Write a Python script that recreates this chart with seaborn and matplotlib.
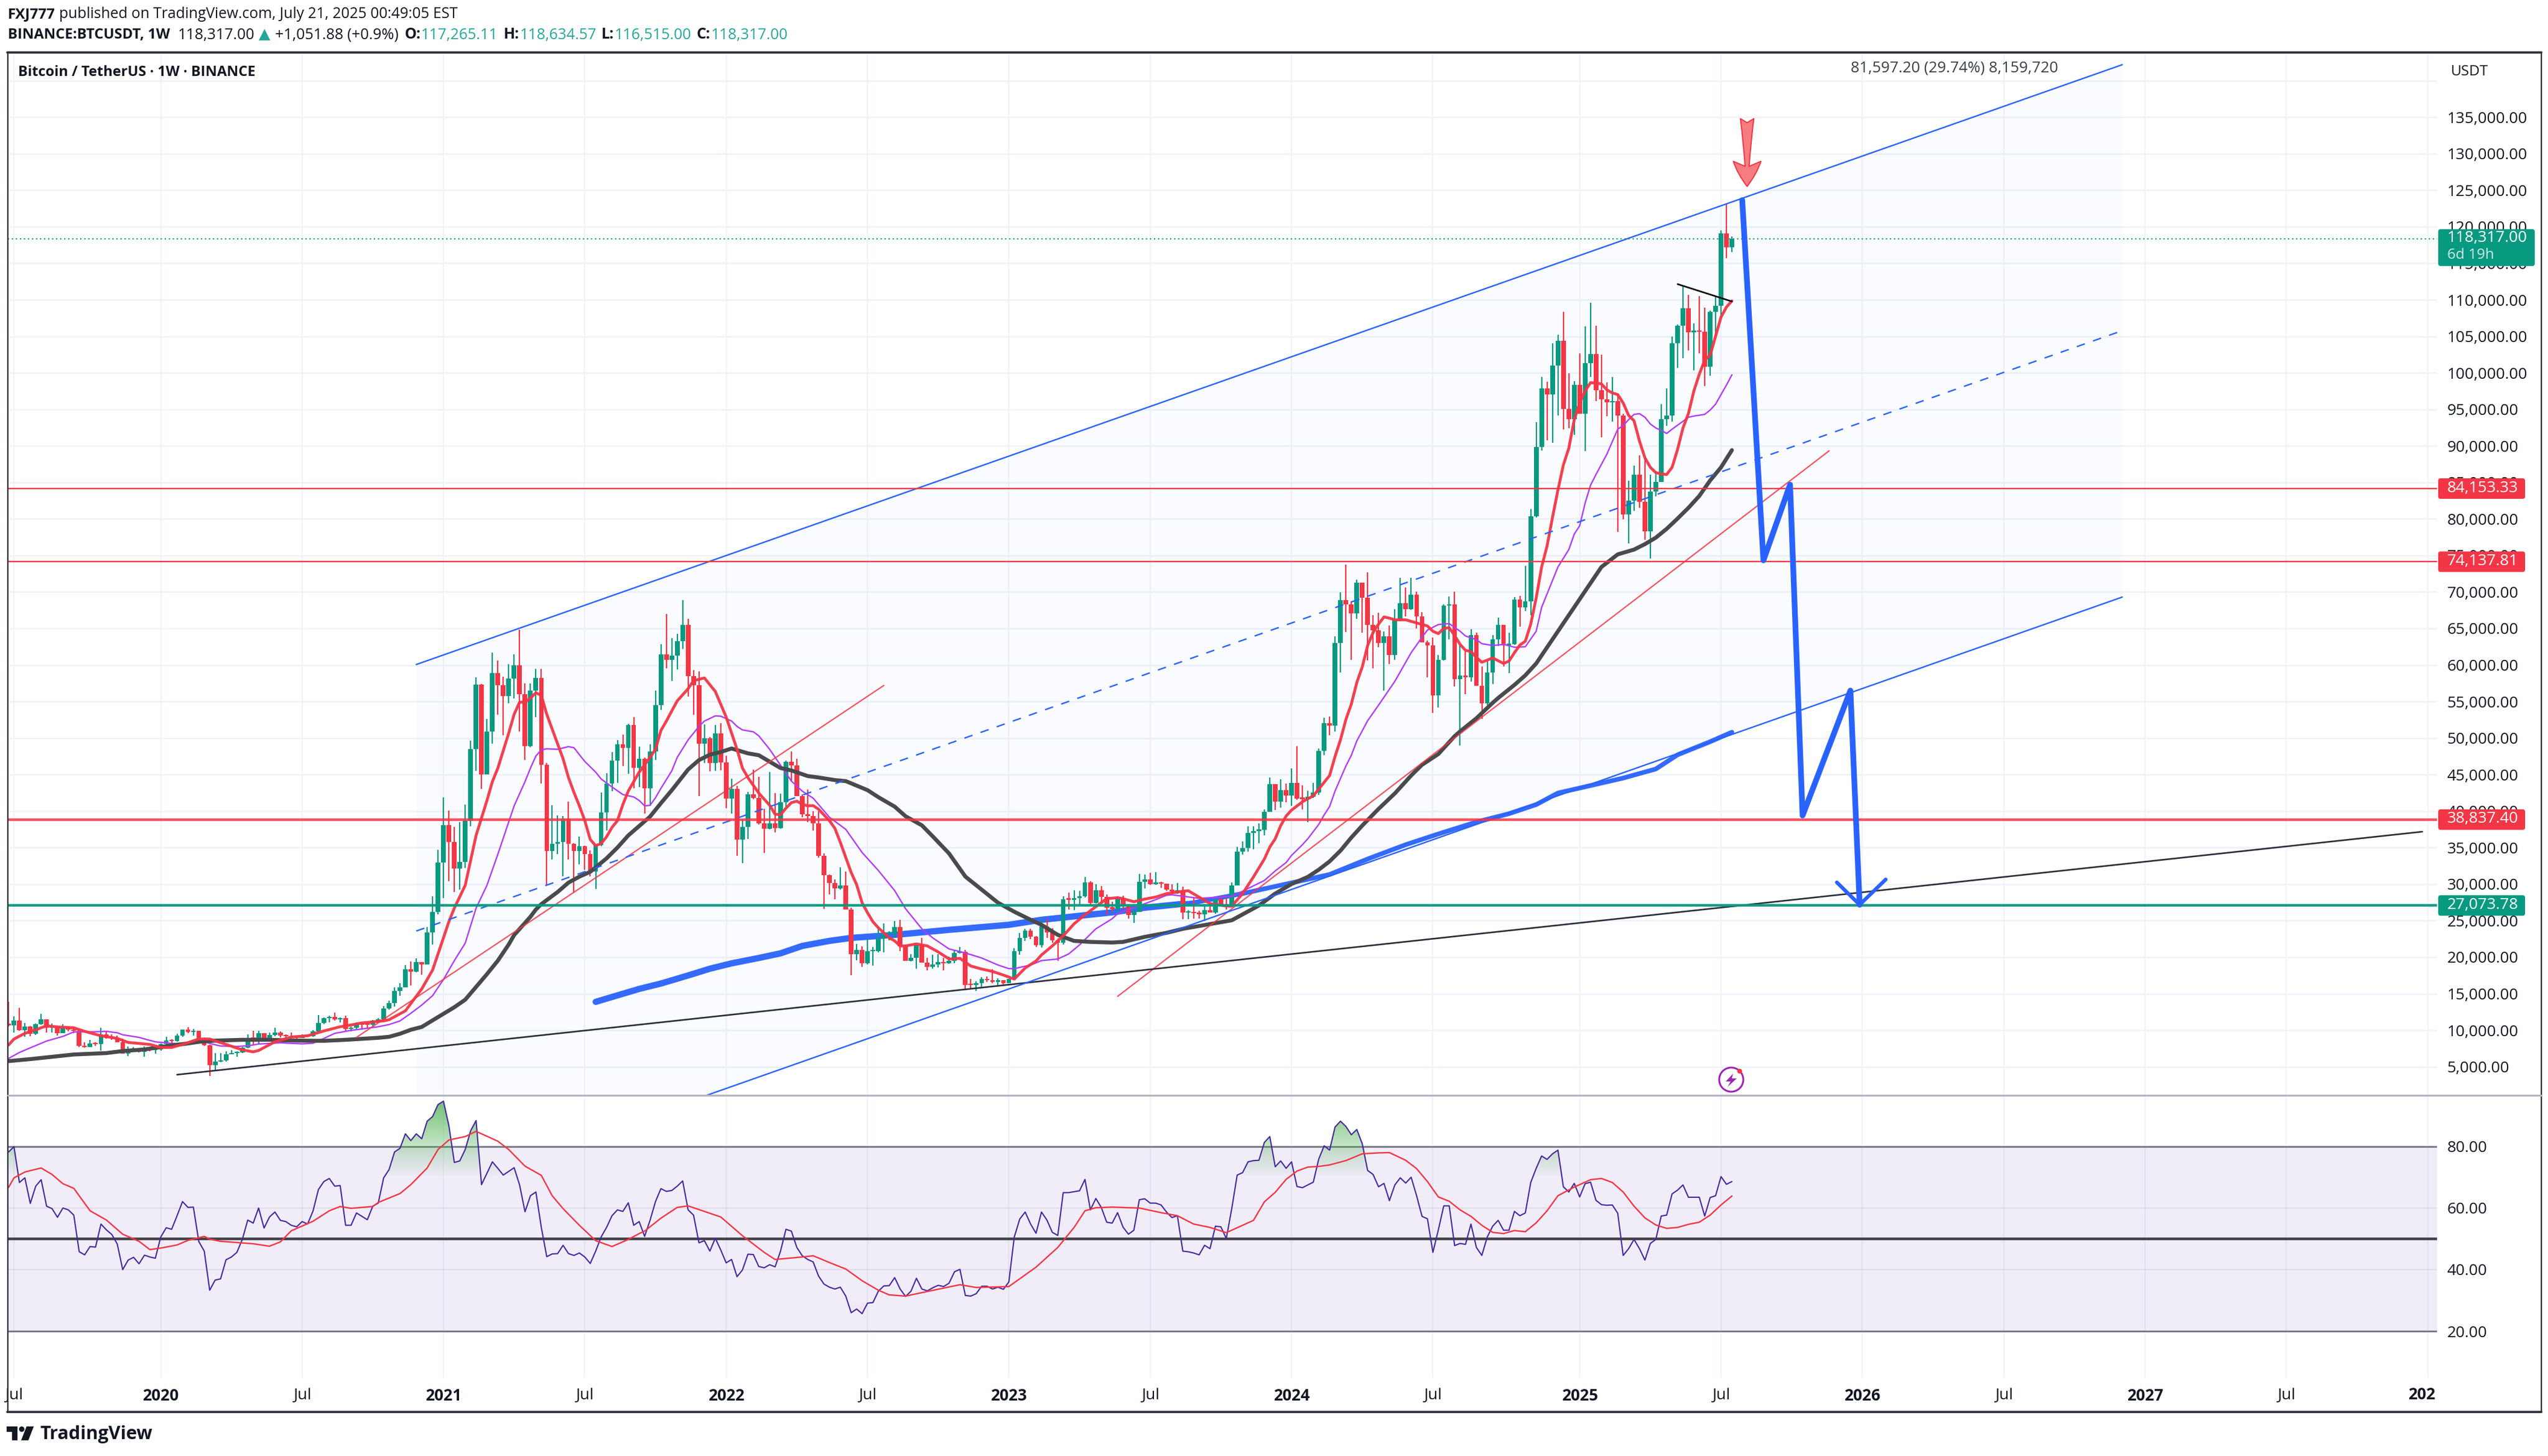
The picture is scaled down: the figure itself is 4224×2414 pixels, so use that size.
import numpy as np
import pandas as pd
import matplotlib
matplotlib.use("Agg")
import matplotlib.pyplot as plt
import seaborn as sns
from matplotlib.patches import FancyBboxPatch, Polygon, Circle, Rectangle, PathPatch
from matplotlib.lines import Line2D
from matplotlib.path import Path
from matplotlib.transforms import Affine2D

# ---------- weekly candles (bar 0 = first week of Jan 2020) ----------
first_bar = -28
first_open = 10888
closes = [
 10667,11327,10034,10500,9510,10832,11492,10337,10400,9620,
 10337,10060,9900,7833,7695,8162,8109,9428,8934,8878,
 8384,6814,7364,7420,7007,7420,7300,7350,8108,8603,
 8520,9235,10061,9759,9959,8411,7915,5245,5714,5850,
 6676,6876,6990,7582,8878,8800,9567,8603,9346,9676,
 9235,9153,9015,8960,9290,9170,9841,11000,11657,11823,
 11492,11685,10171,10337,10887,10750,10710,11350,11492,12950,
 13722,15345,15870,18345,18042,19336,19044,23392,26158,32977,
 38064,35740,32165,33050,38690,48457,57304,45030,50854,58889,
 57230,55719,58115,59958,56014,48937,56493,58225,46319,34561,
 35556,35740,38948,35483,34561,35188,34155,31687,35373,39795,
 43740,46910,49121,48642,51775,45950,47167,43112,48162,54539,
 61432,60695,61285,63275,65487,58484,57230,49268,49932,46614,
 50670,46688,41749,43002,36110,37842,42265,41822,38322,37583,
 38322,37694,41217,46776,46225,42042,39566,39345,38327,33869,
 31254,30154,29383,29796,26493,20438,20990,19200,20797,20797,
 22558,23191,23191,24153,21457,19476,19890,21760,19256,18650,
 18980,19310,19145,19530,20577,20770,16229,16200,16450,16998,
 16860,16586,16860,16448,16998,20797,22613,23658,22833,21677,
 24209,23384,22283,21952,27952,27870,28062,28337,30208,27457,
 29163,28281,26768,26630,28060,26906,25806,26218,30347,30620,
 29989,30208,30070,29245,29000,29190,26094,26100,26000,25900,
 26420,26095,27954,27170,27074,29850,34420,34910,36967,37290,
 37455,39905,43660,41275,42900,42157,43823,41700,41670,41930,
 42518,48230,52050,51690,63054,68866,68278,67070,71250,69190,
 65500,64785,63054,63900,61355,66253,68440,67657,69584,66645,
 63087,62662,55805,60703,68147,68278,58090,58580,58350,64130,
 57177,54760,59005,63477,65535,62727,62890,68963,67885,68700,
 80370,89840,97840,97020,101040,104370,95060,93660,98330,94410,
 101330,102570,97610,96370,95940,96140,94180,80630,82490,86020,
 82330,78315,83730,85100,93690,94180,104040,106460,108870,105575,
 105740,105610,100840,108350,109170,119060,117200,118317]
highs = [
 13887,11905,13061,11000,10584,10914,12200,11492,10886,10530,
 10805,10390,10330,10116,8383,8686,8320,10337,9786,9428,
 9290,8880,7778,7680,7500,7750,7580,7490,8190,9090,
 8800,9480,10115,10391,10170,9900,8975,8000,6870,6870,
 7090,7310,7090,7694,9428,9960,9896,9567,9676,10337,
 9841,9430,9676,9150,9430,9300,9979,12070,11720,11990,
 12400,11712,12000,10530,11080,10950,11080,11440,11685,13280,
 14050,15895,16445,18915,19418,19800,19338,24130,28296,34700,
 41900,40052,37842,38505,40900,49637,58300,57415,52623,61727,
 60621,58410,60142,61432,64860,57488,57488,59441,59441,46600,
 40790,39420,39315,41270,35630,36478,35262,34634,35373,42560,
 45200,48090,49747,50485,51960,52880,48826,47352,49121,56493,
 62833,66960,63644,64234,68915,66335,59330,59146,51849,50117,
 51775,52033,47536,44477,43480,38800,42634,45693,44698,40274,
 45325,42455,42372,46940,48150,47133,42317,42923,39978,39978,
 34200,31309,30622,32273,31722,26769,21815,21458,22365,21400,
 24209,24622,23548,24980,25117,21700,20440,21760,22640,19890,
 20300,20440,19890,20050,20990,21400,20990,17055,16723,17275,
 17320,18320,17080,16620,16998,21210,23329,23879,23879,22890,
 25200,25200,23934,22558,28337,28833,29163,29108,30980,30429,
 29989,29741,28612,27594,28226,28419,27126,26686,31364,31309,
 31530,31667,30347,29988,29988,30153,29620,26420,28050,26355,
 26900,27465,27954,28445,28050,30270,35139,35890,37915,37915,
 38340,40200,44640,43725,44380,43790,45850,48883,43500,42750,
 43820,48557,52770,52930,63900,69943,73763,68700,71700,71250,
 72718,66800,67140,64620,65400,67620,71900,70600,71900,70073,
 67233,63315,63800,61355,68310,69355,70000,62727,61845,64880,
 64390,59788,60540,64065,66482,65535,64390,69290,69450,73600,
 81360,93200,99470,98800,104040,105180,108350,99900,98880,102640,
 106330,109590,106460,102470,98720,99470,97100,94410,85200,87325,
 88700,88440,86020,86475,95715,97840,104955,106590,111940,110635,
 106750,110510,108940,108550,110510,119480,123140,118634]
lows = [
 10500,9704,9900,9070,9160,9346,10750,9704,9680,9290,
 9566,9840,9620,7695,7600,7723,7830,7226,8878,8660,
 8330,6760,6484,7020,6950,6400,7090,6810,7170,8000,
 8190,8410,9070,9620,9290,8400,7860,3732,4392,5650,
 5714,6800,6400,6870,7530,8053,8190,8550,8550,9205,
 9015,8960,8935,8880,8960,9080,9100,9730,10800,11080,
 11350,11080,9841,9800,10171,10115,10335,10475,11080,11270,
 12815,13200,14740,15840,16113,17960,17570,18970,21735,25900,
 28100,30400,28922,29216,32240,37952,45500,43000,45030,49268,
 53176,50374,54798,55460,50853,46982,48750,52880,43775,29916,
 33345,34080,31060,33345,28810,32680,32000,31060,29290,35188,
 37326,42740,43850,46173,45140,43112,43296,39610,40716,46983,
 53876,59515,57783,59405,62206,55645,53176,42007,46614,45435,
 45509,45582,40421,39610,33897,32866,36220,41638,38138,34266,
 37473,37088,37584,40391,44106,42042,39153,38520,37364,33648,
 26631,28613,27952,29245,26493,17550,19614,18650,19008,18870,
 20660,20660,22310,22640,20797,19476,19420,18460,19256,18150,
 18430,18600,18150,19063,19145,20521,15568,15760,15403,15980,
 16587,16450,16173,16311,16480,16998,20357,22228,22500,21400,
 21347,22640,21952,19530,21733,26493,26410,27180,28143,27060,
 27318,27457,25750,26218,25805,26493,25254,24704,26218,29438,
 29933,29878,29520,29053,28557,28695,25180,25200,25280,25280,
 24950,26095,25930,27170,26520,27008,29850,34000,34480,34800,
 35630,36700,39900,40130,40460,41210,40720,41540,40200,38500,
 41766,42190,47640,50420,50910,58970,64520,60700,66300,64460,
 60600,59560,62400,56520,60115,60700,66025,66645,67560,65000,
 63087,58352,53450,54173,60637,63480,57110,49015,56030,57765,
 57177,52605,54500,57438,62600,59820,58907,62760,65274,67400,
 66841,80200,89350,90750,90400,94150,92220,92450,91470,94410,
 89250,99470,96140,91180,94080,93330,78250,79980,76615,81120,
 81510,77170,74560,83080,85100,92780,93330,100710,102020,103060,
 100350,102670,98230,99630,105020,107370,115730,116515]

# ---------- moving averages: (bar, price) ----------
ema_bar = [-28,-27,-25,-23,-21,-19,-16,-14,-11,-8,-6,-2,0,2,4,7,9,12,15,17,18,21,24,27,30,33,35,37,41,42,
 45,48,50,53,54,56,58,60,61,62,64,65,66,67,68,69,70,71,72,74,75,76,77,78,79,80,81,82,83,84,85,86,88,90,91,92,93,95,97,98,100,102,104,105,106,107,108,
 110,112,113,114,115,116,117,118,119,120,121,123,124,125,126,127,128,129,130,131,132,133,134,135,136,137,139,141,143,145,147,149,151,153,155,157,159,161,162,164,166,168,170,172,174,176,177,179,181,183,185,187,
 189,193,196,197,199,201,203,204,205,206,207,208,210,212,215,216,217,218,219,220,221,222,223,224,225,226,227,229,231,233,234,235,236,237,238,239,240,241,242,243,245,247,248,249,250,251,252,253,
 254,255,256,257,258,259,260,261,262,263,264,265,266,267,268,269,270,271,272,273,274,275,276,277,278,279,280,281,282,283,284,285,286,287,288,289]
ema_val = [7970,8796,9566,10060,10611,10447,10337,9841,9236,8878,8328,8053,7640,7640,8053,8796,8796,8053,7310,7035,7227,8411,9070,9236,9896,10475,10722,10997,11273,11440,
 12650,15652,18232,24867,26710,29844,36662,41454,44034,45877,50670,53250,54908,54908,55460,56198,55830,53250,51222,47167,44587,42560,40716,38690,36110,35262,35556,36478,37768,38690,40900,42744,45325,47352,48458,51038,52328,55092,56750,57857,58225,56382,52880,50670,48458,45877,44587,
 42455,40804,39565,39510,40391,41162,41354,40941,40721,40749,40253,38685,37639,35713,33649,31585,29933,27456,26080,24842,24016,23329,22641,22228,21540,21540,21815,21540,20714,19751,19834,18788,18375,18045,17549,16999,18512,19476,20301,21540,22916,24567,25805,26906,28007,28144,28007,27594,27952,28227,28695,28915,
 29100,27335,27007,26975,28706,30992,33440,35073,36215,38011,39317,40133,41276,42092,44868,47480,49765,52540,54663,57601,59723,62662,64458,65600,66580,66417,66188,66188,65764,65339,64621,64294,65013,65111,64033,62825,62009,61846,61030,60376,60964,60213,60540,61683,62727,63250,65600,69192,
 73416,76289,80208,83960,87389,89675,93593,95880,97512,98654,98589,98491,97675,97250,97022,95880,94180,93430,90655,88370,87062,86344,86148,86083,87062,89512,92451,94410,97512,99797,101756,102409,105021,107633,109004,109853]
sma_bar = [-28,-26,-24,-21,-18,-16,-14,-12,-10,-8,-7,-4,-2,-1,2,5,7,9,11,14,16,18,22,26,28,30,32,35,37,40,42,44,46,48,
 50,52,54,56,58,60,62,64,65,67,68,69,70,71,73,75,76,77,78,80,81,83,85,87,88,89,90,91,92,94,95,97,99,100,102,103,105,106,107,109,110,112,
 116,118,120,123,126,129,132,135,137,140,142,145,148,151,154,156,157,160,162,165,167,169,172,175,176,179,183,185,186,
 191,197,199,203,205,207,208,210,211,213,214,215,216,218,219,220,222,224,227,229,230,232,233,235,237,239,240,242,243,245,247,249,251,253,254,
 257,259,260,261,262,263,264,266,268,269,270,271,272,273,274,275,276,277,278,280,281,282,284,285,286,287,288,289]
sma_val = [6126,6952,7585,8520,9154,9759,9787,9787,9841,9649,9374,9016,8603,8410,8190,8190,8741,8190,7833,7778,7860,8108,8273,8135,8218,8878,9566,9979,10171,10475,10777,11272,12318,13441,
 14730,16942,19523,21919,26710,29844,34082,38505,40716,44034,45877,47536,48384,48531,48458,48826,48678,47720,46798,45325,44403,43297,42265,41933,41454,40716,40790,41822,43112,45509,47352,49747,51591,52328,53028,52992,52328,51591,51112,50854,50300,48458,
 44106,42730,41767,39153,37501,34336,31860,29108,26631,23879,22641,21127,20577,19889,18925,18431,18431,18925,19531,19751,20438,21677,23879,25255,25943,26768,27869,28475,28540,
 28053,28315,29032,30501,31808,32950,33930,35400,36215,38175,39480,40623,42745,46174,47643,49600,52377,54500,57764,60377,61682,63805,64784,65535,65666,64621,63968,63478,62923,62662,62825,62433,62499,64621,67886,
 73416,75800,77921,79064,82166,84615,86083,88860,92287,92778,93594,94311,94410,93920,92996,92451,92124,91700,92287,93365,93920,94083,94311,94900,95716,97022,98328,99732]
slow_bar = [-28,-24,-16,-10,-7,-3,2,5,7,10,15,20,25,30,34,40,42,44,46,48,54,56,60,62,64,65,68,69,70,73,75,77,79,82,84,86,88,90,92,94,97,99,101,103,105,108,110,
 114,116,119,121,124,126,130,132,135,137,140,142,145,148,151,154,157,160,162,165,168,171,175,177,181,185,188,
 197,202,205,208,211,213,215,217,219,221,224,227,230,232,235,238,239,242,245,246,249,251,253,
 265,268,271,273,275,277,279,281,283,285,287,289]
slow_val = [5769,6044,6676,6869,7145,7365,7915,8190,8410,8576,8686,8686,8576,8548,8686,8961,9098,9511,10061,10447,13146,14178,17679,19523,21735,23024,25530,26525,27262,28921,30211,31021,31686,33529,35004,36664,37952,39242,41086,42854,45693,46983,47720,48089,48568,47905,47647,
 45895,45565,44794,44602,44244,44106,42868,41905,40611,39290,38052,36538,34199,31034,29245,27456,26218,25117,24429,23053,22228,22090,22008,22090,22778,23329,23879,
 25050,27073,28706,30012,30992,31971,33114,34583,36379,38012,40297,42419,44868,46337,47806,50255,50908,52704,54826,55479,57275,58581,60213,
 73416,75146,75800,76550,77431,78640,80043,81512,83146,85267,87062,89415]
long_bar_a = [80,88,92,97,101,105,110,114,118,123,127,135,145,156,162,168,175,181,188]
long_val_a = [13882,15652,16390,17495,18417,19154,19889,20522,21540,22228,22641,23053,23741,24430,25117,25585,26135,26768,27300]
long_bar_b = [188,190,199,208,215,222,229,235,242,248,253,257,269,275,279,281,285,289]
long_val_b = [27300,27465,28706,30175,31318,33440,35400,36869,38501,39643,40890,42470,44520,45760,47700,48300,49500,50800]

# ---------- drawings ----------
channel_bars = [47.0, 360.8]
channel_upper = [60068, 142187]
channel_mid = [23579, 105770]
channel_lower = [-12910, 69300]
trend_red_a = ([36, 133], [9017, 57200])
trend_red_b = ([176, 306.9], [14630, 89330])
trend_black = ([3, 416], [3909, 37180])
flag_black = ([279, 289], [112150, 109770])
path_bars = [290.9, 294.8, 299.7, 302.0, 310.8, 312.5]
path_vals = [123640, 74330, 84690, 39400, 56500, 27180]
head_bars = [308.3, 312.5, 317.3]
head_vals = [30240, 27180, 30640]
levels_thin = [84153.33, 74137.81]
level_red = 38837.40
level_green = 27073.78
last_price = 118317.00

# ---------- RSI pane ----------
rsi_vals = [
 78.2,79.9,68.3,69.8,61.5,67.1,69.2,60.6,59.8,57.0,
 60.0,59.4,57.7,45.8,44.8,47.5,47.3,54.8,52.9,51.4,
 48.3,40.0,43.1,44.0,41.9,44.7,44.1,43.7,50.6,53.6,
 53.1,57.5,62.1,60.2,60.3,49.1,46.0,33.3,36.6,37.0,
 43.2,44.1,45.6,49.8,56.1,55.1,60.0,53.5,57.1,58.7,
 56.0,55.6,54.4,53.9,55.6,54.8,59.0,66.0,68.6,69.6,
 67.1,67.3,54.4,54.4,58.4,57.3,56.2,60.6,61.6,69.8,
 72.5,78.2,79.4,84.1,81.9,84.1,82.5,88.2,89.7,93.6,
 94.7,86.7,74.8,75.3,79.0,85.1,88.4,67.6,71.3,75.0,
 72.9,70.7,71.9,73.1,67.5,58.8,64.0,65.2,53.7,44.2,
 45.1,45.2,47.9,45.2,44.6,45.4,44.1,42.0,46.0,50.6,
 53.7,57.5,59.4,58.9,61.7,54.4,55.6,50.8,56.0,62.1,
 66.3,65.4,65.7,67.1,68.8,59.4,57.7,48.7,49.4,46.0,
 50.2,46.4,42.2,43.3,37.7,39.9,45.0,44.9,41.0,40.6,
 41.6,40.9,46.0,53.1,52.5,47.2,44.5,43.3,42.5,37.9,
 35.3,34.3,33.7,34.3,31.4,26.0,27.2,25.7,29.1,29.3,
 33.0,34.7,34.8,37.4,33.7,31.3,33.0,37.2,33.7,33.1,
 34.1,34.9,34.5,35.6,39.3,40.1,31.6,31.4,32.2,34.6,
 34.6,33.7,34.3,33.6,36.0,50.6,56.4,58.7,54.8,51.8,
 58.7,56.1,52.1,51.1,65.0,65.0,65.3,65.6,69.3,59.4,
 63.1,60.2,55.4,55.1,58.5,53.8,51.5,52.8,62.7,63.0,
 61.6,61.6,61.0,58.7,56.9,57.5,46.0,45.8,45.4,44.8,
 47.9,46.8,54.1,53.9,50.1,59.8,70.7,71.5,75.0,75.4,
 75.5,81.3,83.2,73.4,75.3,72.9,75.0,67.0,66.6,67.5,
 68.4,75.9,80.2,78.8,86.3,88.2,86.5,83.8,85.5,80.9,
 72.2,70.9,66.9,68.0,62.4,67.5,69.8,68.1,70.0,64.0,
 57.3,56.5,45.6,52.9,60.7,60.7,47.8,48.5,48.2,54.8,
 47.2,44.6,50.6,54.1,56.0,52.8,52.8,58.9,57.5,58.4,
 68.3,72.9,76.9,75.8,77.6,78.8,66.9,65.2,68.0,63.6,
 67.9,68.4,62.5,61.1,60.9,61.0,58.3,44.6,46.8,49.8,
 46.8,43.1,48.5,49.8,57.4,57.7,64.6,65.8,67.5,63.5,
 63.5,63.5,57.4,63.4,64.0,70.2,67.7,68.6]
rsi_ma_bar = [-28,-27,-25,-22,-20,-18,-16,-13,-10,-7,-4,-2,0,3,5,8,9,11,14,17,20,22,24,28,31,33,35,39,40,44,46,49,51,53,56,58,62,64,67,70,72,74,77,80,83,86,88,89,92,95,97,101,103,107,111,113,118,120,123,126,129,132,134,137,141,147,150,156,161,165,168,170,172,175,180,184,187,190,193,196,201,203,
 205,207,209,211,213,215,218,221,224,226,229,231,233,235,237,239,241,243,245,247,249,251,253,255,257,260,263,265,267,269,271,273,275,277,279,281,283,285,287,289]
rsi_ma_val = [66.7,69.8,71.7,73.0,70.9,67.9,66.4,59.1,56.1,51.5,49.2,46.5,47.0,48.0,49.5,50.8,49.9,49.2,48.8,48.4,47.6,49.0,52.6,55.7,59.1,60.5,59.9,60.5,61.8,64.7,67.6,73.0,79.0,82.1,83.2,84.9,81.7,79.0,73.6,70.6,64.0,59.8,54.4,49.4,47.5,49.8,51.7,52.5,56.7,60.2,60.7,58.3,57.1,51.0,45.6,43.3,44.1,44.5,42.3,40.2,36.4,33.3,31.8,31.4,32.9,35.1,34.2,34.5,40.8,47.2,53.7,59.1,60.1,60.3,60.0,58.5,57.5,54.8,53.7,52.0,56.0,62.0,
 65.1,69.3,72.0,73.3,73.5,74.0,75.4,77.6,77.9,78.0,75.5,72.8,68.6,63.6,62.2,59.4,57.3,54.4,52.1,51.7,52.7,52.3,55.2,59.1,64.0,66.8,69.2,69.6,68.3,65.2,60.6,56.8,54.5,53.4,53.7,54.7,55.4,57.7,61.0,63.9]
rsi_levels = [80, 60, 50, 40, 20]

# ---------- axis labels ----------
time_bars = [-27,0,26,52,78,104,130,156,182,208,234,261,287,313,339,365,391,417]
time_labels = ["Jul","2020","Jul","2021","Jul","2022","Jul","2023","Jul","2024","Jul","2025","Jul","2026","Jul","2027","Jul",""]
price_ticks = list(range(5000, 140001, 5000))

# ---------- styling ----------
GREEN, RED, BLUE, INK = "#089981", "#f23645", "#2962ff", "#131722"
W, H = 4224, 2414
sns.set_theme(style="white")
plt.rcParams["font.family"] = ["Open Sans", "DejaVu Sans"]
plt.rcParams["axes.unicode_minus"] = False

fig = plt.figure(figsize=(W / 100, H / 100), dpi=100, facecolor="white")
PX = Affine2D().scale(1, -1).translate(0, H)
L, R, T, M, B, RF = 13, 4040, 87, 1816, 2284, 4213
ax = fig.add_axes([L / W, 1 - M / H, (R - L) / W, (M - T) / H])
ax2 = fig.add_axes([L / W, 1 - B / H, (R - L) / W, (B - M) / H])
XLIM = (-28.13, 418.7)
for a in (ax, ax2):
    a.set_xlim(*XLIM)
    a.set_facecolor("white")
    for s in a.spines.values():
        s.set_visible(False)
    for b in time_bars:
        a.axvline(b, color="#f0f3fa", lw=1.6, zorder=0.5)
ax.set_ylim(1086, 143860)
ax2.set_ylim(4.94, 96.6)

# main pane
for p in price_ticks:
    ax.axhline(p, color="#f0f3fa", lw=2.0, zorder=0.5)
ax.fill_between(channel_bars, channel_upper, channel_lower, color=BLUE, alpha=0.025, lw=0, zorder=0.8)

def curve(a, x, y, color, lw, z, **kw):
    sns.lineplot(x=list(x), y=list(y), ax=a, color=color, linewidth=lw, zorder=z,
                 estimator=None, sort=False, legend=False, **kw)

curve(ax, long_bar_a, long_val_a, BLUE, 7.5, 1.0, alpha=0.95)
curve(ax, long_bar_b, long_val_b, BLUE, 5.5, 1.0, alpha=0.95)

bars = np.arange(first_bar, first_bar + len(closes))
df = pd.DataFrame({"bar": bars, "close": closes, "high": highs, "low": lows})
df["open"] = df["close"].shift(1).fillna(first_open)
up = df["close"] >= df["open"]
ax.vlines(df["bar"], df["low"], df["high"], colors=np.where(up, GREEN, RED), lw=1.6, zorder=2)
ax.bar(df["bar"], (df["close"] - df["open"]).abs().clip(lower=180), bottom=df[["open", "close"]].min(axis=1),
       width=0.86, color=np.where(up, GREEN, RED), linewidth=0, zorder=2.1)

curve(ax, sma_bar, sma_val, "#b13cf5", 1.7, 3)
curve(ax, slow_bar, slow_val, "#4a4a4d", 4.7, 3.1)
curve(ax, ema_bar, ema_val, "#f23645", 3.4, 3.2, alpha=0.95)

curve(ax, channel_bars, channel_upper, BLUE, 1.7, 3.5)
curve(ax, channel_bars, channel_lower, BLUE, 1.7, 3.5)
ax.plot(channel_bars, channel_mid, color=BLUE, lw=1.7, dashes=(6, 6), zorder=3.5)
curve(ax, trend_red_a[0], trend_red_a[1], RED, 1.6, 3.4, alpha=0.85)
curve(ax, trend_red_b[0], trend_red_b[1], RED, 1.6, 3.4, alpha=0.85)
curve(ax, trend_black[0], trend_black[1], "#2a2e39", 1.9, 3.4)
curve(ax, flag_black[0], flag_black[1], "#000000", 1.9, 3.6)

for lv in levels_thin:
    ax.axhline(lv, color=RED, lw=1.7, zorder=4)
ax.axhline(level_red, color=RED, lw=3.2, alpha=0.85, zorder=4)
ax.axhline(level_green, color=GREEN, lw=3.2, alpha=0.95, zorder=4)
ax.axhline(last_price, color=GREEN, lw=1.5, ls=(0, (1, 2.2)), zorder=4)

curve(ax, path_bars, path_vals, BLUE, 6.8, 5)
curve(ax, head_bars, head_vals, BLUE, 4.4, 5)
ax.annotate("", xy=(291.8, 125520), xytext=(291.8, 134800), zorder=6,
            arrowprops=dict(arrowstyle="fancy,head_length=3.0,head_width=3.3,tail_width=1.6",
                            mutation_scale=10, fc="#f77c80", ec=RED, lw=1.4, shrinkA=0, shrinkB=0))

ax.yaxis.tick_right()
ax.set_yticks(price_ticks)
ax.set_yticklabels([f"{p:,.2f}" if p < 140000 else "" for p in price_ticks], ha="left", color=INK, fontsize=18.8)
ax.tick_params(axis="y", length=0, pad=12, right=False, labelright=True)
ax.set_xticks([])
ax.set_xlabel("")
ax.set_ylabel("")

# RSI pane
ax2.axhspan(20, 80, color="#7e57c2", alpha=0.11, lw=0, zorder=0.6)
for lv in rsi_levels:
    if lv in (80, 20):
        ax2.axhline(lv, color="#787b86", lw=2.1, zorder=1.2)
    elif lv == 50:
        ax2.axhline(lv, color="#434348", lw=3.2, zorder=1.2)
    else:
        ax2.axhline(lv, color="#787b86", lw=1.5, alpha=0.13, zorder=1.2)

rsi = np.array(rsi_vals)
for cond, lo, hi, rgb, flip in ((rsi > 70, 70, 100, (0.30, 0.69, 0.31), False), (rsi < 30, 0, 30, (0.95, 0.21, 0.27), True)):
    poly = ax2.fill_between(bars, rsi, 70 if not flip else 30, where=cond, interpolate=True, facecolor="none", lw=0)
    paths = poly.get_paths()
    if paths:
        g = np.linspace(0, 0.5, 256) if flip else np.linspace(1, 0, 256)
        img = np.zeros((256, 1, 4))
        img[..., 0], img[..., 1], img[..., 2] = rgb
        img[..., 3] = (g * 0.95)[:, None]
        im = ax2.imshow(img, extent=(XLIM[0], XLIM[1], lo, hi), origin="upper", aspect="auto", zorder=1.5)
        clip = PathPatch(Path.make_compound_path(*paths), transform=ax2.transData)
        im.set_clip_path(clip)
ax2.set_xlim(*XLIM)
ax2.set_ylim(4.94, 96.6)

curve(ax2, bars, rsi_vals, "#4527a0", 1.5, 3)
curve(ax2, rsi_ma_bar, rsi_ma_val, RED, 1.7, 3.2)

ax2.yaxis.tick_right()
ax2.set_yticks([20, 40, 60, 80])
ax2.set_yticklabels(["20.00", "40.00", "60.00", "80.00"], ha="left", color=INK, fontsize=18.8)
ax2.tick_params(axis="y", length=0, pad=12, right=False, labelright=True)
ax2.set_xticks(time_bars)
ax2.set_xticklabels(time_labels, color=INK, fontsize=19)
for t, s in zip(ax2.get_xticklabels(), time_labels):
    t.set_fontweight("bold" if s.isdigit() else "normal")
ax2.tick_params(axis="x", length=0, pad=12)
ax2.set_xlabel("")
ax2.set_ylabel("")

# ---------- figure level items, placed in picture pixels ----------
def tx(x, y, s, color=INK, size=18, weight="normal", ha="left"):
    fig.text(x, y, s, transform=PX, color=color, fontsize=size, fontweight=weight, ha=ha, va="center")

fig.add_artist(Rectangle((L, T), RF - L, 2341 - T, transform=PX, fill=False, ec="#2a2e39", lw=1.6, zorder=1))
fig.add_artist(Line2D([L - 1, RF], [T, T], transform=PX, color="#2a2e39", lw=2.6, zorder=1))
fig.add_artist(Line2D([L - 1, RF], [2341, 2341], transform=PX, color="#2a2e39", lw=2.6, zorder=1))
fig.add_artist(Line2D([L, RF], [M, M], transform=PX, color="#b2b5be", lw=2.2, zorder=1))

def y_of(p):
    return H - ax.transData.transform((0, p))[1]

TAG_L = R + 2
def tag(price, text, color, right=4186):
    yc = y_of(price)
    fig.add_artist(FancyBboxPatch((TAG_L, yc - 17), right - TAG_L, 34, transform=PX, fc=color, ec="none",
                                  boxstyle="round,pad=0,rounding_size=4", zorder=2))
    tx(TAG_L + 15, yc - 1, text, color="white", size=18.8)

tag(levels_thin[0], "84,153.33", RED)
tag(levels_thin[1], "74,137.81", RED)
tag(level_red, "38,837.40", RED)
tag(level_green, "27,073.78", GREEN)
fig.add_artist(FancyBboxPatch((TAG_L, 380), 4202 - TAG_L, 61, transform=PX, fc=GREEN, ec="none",
                              boxstyle="round,pad=0,rounding_size=4", zorder=2))
tx(TAG_L + 15, 395, "118,317.00", color="white", size=18.8)
tx(TAG_L + 15, 423, "6d 19h", color="#cdeae4", size=17.5)

tx(4063, 119, "USDT", size=17.5)
tx(3068, 113, "81,597.20 (29.74%) 8,159,720", color="#3a3f4b", size=18.3)
tx(4015, 2313, "202", size=19, weight="bold", ha="center")

tx(13, 24, "FXJ777", size=17.5, weight="bold")
tx(98, 24, "published on TradingView.com, July 21, 2025 00:49:05 EST", size=17.7)
tx(13, 58, "BINANCE:BTCUSDT, 1W", size=17.2, weight="bold")
tx(295, 58, "118,317.00", size=18)
fig.add_artist(Polygon([(438.5, 48), (429, 67), (448, 67)], transform=PX, fc="#26a69a", ec="none", zorder=2))
tx(456, 58, "+1,051.88 (+0.9%)", size=18)
for x0, lab, x1, val in ((671, "O:", 698, "117,265.11"), (835, "H:", 862, "118,634.57"),
                         (997, "L:", 1019, "116,515.00"), (1155, "C:", 1179, "118,317.00")):
    tx(x0, 58, lab, size=18, weight="bold")
    tx(x1, 58, val, color="#26a69a", size=18)
tx(30, 120, "Bitcoin / TetherUS · 1W · BINANCE", size=17, weight="bold")

# alert icon
fig.add_artist(Circle((2870, 1790), 20, transform=PX, fill=False, ec="#9c27b0", lw=2.2, zorder=2))
fig.add_artist(Polygon([(2873, 1780), (2861, 1793), (2869, 1793), (2864, 1802), (2879, 1788), (2871, 1788)],
                       transform=PX, fc="#9c27b0", ec="none", zorder=2))
fig.add_artist(Circle((2884, 1776), 4, transform=PX, fc=RED, ec="none", zorder=2))

# TradingView mark
for pts in ([(11, 2365), (29, 2365), (29, 2388), (20, 2388), (20, 2374), (11, 2374)],
            [(44, 2365), (56, 2365), (47, 2388), (35, 2388)]):
    fig.add_artist(Polygon(pts, transform=PX, fc=INK, ec="none", zorder=2))
fig.add_artist(Circle((36, 2369.5), 4.5, transform=PX, fc=INK, ec="none", zorder=2))
tx(66, 2378, "TradingView", size=22, weight="bold")

fig.savefig("out.png", dpi=100, facecolor="white")
